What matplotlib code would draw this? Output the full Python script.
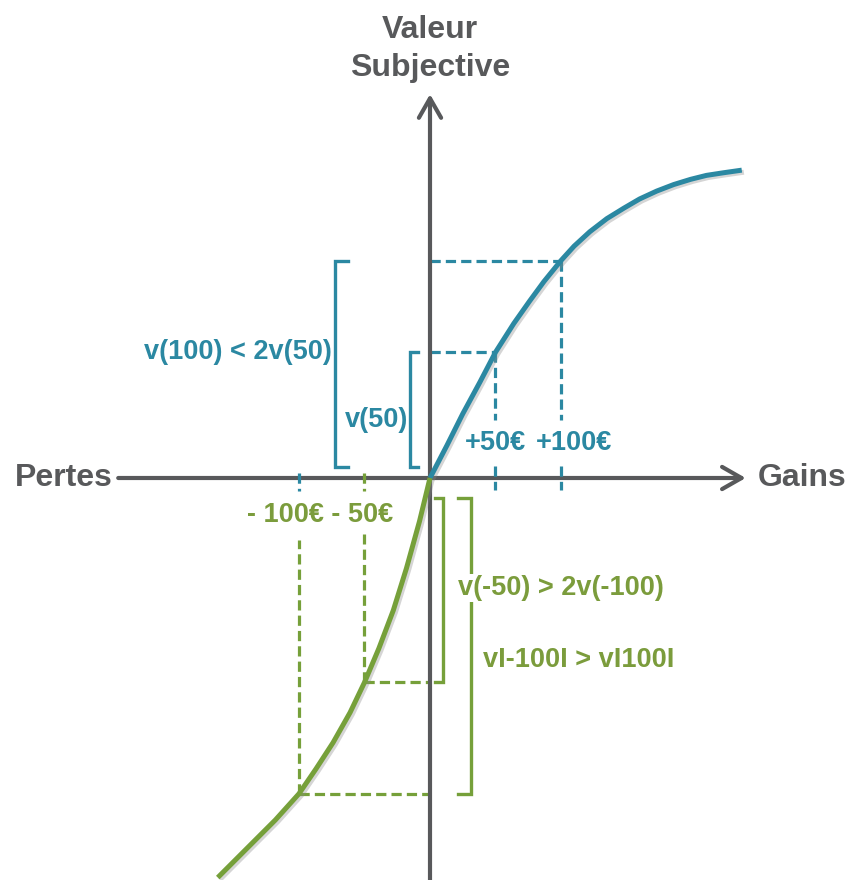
import matplotlib
matplotlib.use('Agg')
import matplotlib.pyplot as plt
import matplotlib.patheffects as pe

# fonction de valeur (x en euros, v en unites arbitraires)
gain_x = [0, 13, 25, 38, 50, 64, 76, 87, 100, 110, 122, 135, 148, 160, 173, 186, 199, 211, 224, 238]
gain_v = [0, 25, 49, 73, 96, 118, 135, 150, 166, 177, 188, 198, 206, 213, 219, 224, 228, 231, 233, 235]
loss_x = [0, -8, -18, -28, -39, -50, -61, -74, -87, -100, -118, -135, -150, -162]
loss_v = [0, -33, -69, -101, -130, -156, -179, -202, -222, -241, -261, -278, -293, -305]

gain_marks = [50, 100]
gain_labels = ['+50€', '+100€']
loss_marks = [-50, -100]
loss_label = '- 100€ - 50€'

y_title = ['Valeur', 'Subjective']
x_left, x_right = 'Pertes', 'Gains'
gain_notes = ['v(50)', 'v(100) < 2v(50)']
loss_notes = ['v(-50) > 2v(-100)', 'vI-100I > vI100I']

BLUE = '#2b88a2'
GREEN = '#76a03a'
GREEN_TXT = '#7b9c3c'
GRAY = '#58595b'

plt.rcParams['font.family'] = ['Liberation Sans', 'DejaVu Sans']
plt.rcParams['font.weight'] = 'bold'

px = 1.31  # pixels par unite
fig = plt.figure(figsize=(8.52, 8.8), dpi=100)
ax = fig.add_axes([0, 0, 1, 1])
ax.set_xlim(-430 / px, 422 / px)
ax.set_ylim(-402 / px, 478 / px)
ax.axis('off')


def v_at(xs, vs, x):
    return vs[xs.index(x)]


dash = (0, (3.2, 1.6))
dlw = 2.3

# axes avec fleches
arrow = dict(arrowstyle='->,head_length=0.7,head_width=0.4', lw=3.0, color=GRAY,
             mutation_scale=20, shrinkA=0, shrinkB=0)
ax.annotate('', xy=(241, 0), xytext=(-238, 0), arrowprops=arrow, zorder=3)
ax.annotate('', xy=(0, 293), xytext=(0, -310), arrowprops=arrow, zorder=3)

# pointilles gains
for x, lab in zip(gain_marks, gain_labels):
    v = v_at(gain_x, gain_v, x)
    ax.plot([0, x], [v, v], color=BLUE, lw=dlw, ls=dash, zorder=2)
    ax.plot([x, x], [v, 44], color=BLUE, lw=dlw, ls=dash, zorder=2)
    ax.plot([x, x], [9, -9], color=BLUE, lw=dlw, ls=dash, zorder=4)
    ax.text(x + (0 if x == 50 else 10), 27, lab, color=BLUE, fontsize=19.5,
            ha='center', va='center')

# pointilles pertes
tick_cols = {-50: GREEN, -100: BLUE}
tops = {-50: -43, -100: -47}
for x in loss_marks:
    v = v_at(loss_x, loss_v, x)
    ax.plot([x, 0], [v, v], color=GREEN, lw=dlw, ls=dash, zorder=2)
    ax.plot([x, x], [v, tops[x]], color=GREEN, lw=dlw, ls=dash, zorder=2)
    ax.plot([x, x], [4, -10], color=tick_cols[x], lw=dlw, ls=dash, zorder=4)
ax.text(-140, -28, loss_label, color=GREEN_TXT, fontsize=19.5, ha='left', va='center')

# crochets gains
v50 = v_at(gain_x, gain_v, 50)
v100 = v_at(gain_x, gain_v, 100)
for bx, top, w in [(-15.3, v50, 6), (-72.5, v100, 10)]:
    ax.plot([bx + w, bx, bx, bx + w], [top, top, 8.5, 8.5], color=BLUE, lw=2.4,
            solid_joinstyle='miter', zorder=2)
ax.text(-16.5, 44, gain_notes[0], color=BLUE, fontsize=19.5, ha='right', va='center')
ax.text(-75, 96, gain_notes[1], color=BLUE, fontsize=19.5, ha='right', va='center')

# crochets pertes
vm50 = v_at(loss_x, loss_v, -50)
vm100 = v_at(loss_x, loss_v, -100)
for bx, bot, w in [(9.9, vm50, 6), (31.3, vm100, 10)]:
    ax.plot([bx - w, bx, bx, bx - w], [-15.3, -15.3, bot, bot], color=GREEN, lw=2.4,
            solid_joinstyle='miter', zorder=2)
ax.text(21.5, -84, loss_notes[0], color=GREEN_TXT, fontsize=19.5, ha='left', va='center',
        bbox=dict(fc='white', ec='none', pad=1), zorder=5)
ax.text(40.5, -139, loss_notes[1], color=GREEN_TXT, fontsize=19.5, ha='left', va='center',
        zorder=5)

# courbes
shadow = [pe.SimpleLineShadow(offset=(1.5, -1.5), shadow_color='#888888', alpha=0.35),
          pe.Normal()]
ax.plot(gain_x, gain_v, color=BLUE, lw=3.6, solid_capstyle='butt', solid_joinstyle='round',
        path_effects=shadow, zorder=6)
ax.plot(loss_x, loss_v, color=GREEN, lw=3.6, solid_capstyle='butt', solid_joinstyle='round',
        path_effects=shadow, zorder=6)

# libelles des axes
ax.text(0, 341.7, y_title[0], color=GRAY, fontsize=23, ha='center', va='center')
ax.text(0, 312.7, y_title[1], color=GRAY, fontsize=23, ha='center', va='center')
ax.text(-242.5, 0, x_left, color=GRAY, fontsize=23, ha='right', va='center')
ax.text(250.5, 0, x_right, color=GRAY, fontsize=23, ha='left', va='center')

fig.savefig('out.png', dpi=100, facecolor='white')
